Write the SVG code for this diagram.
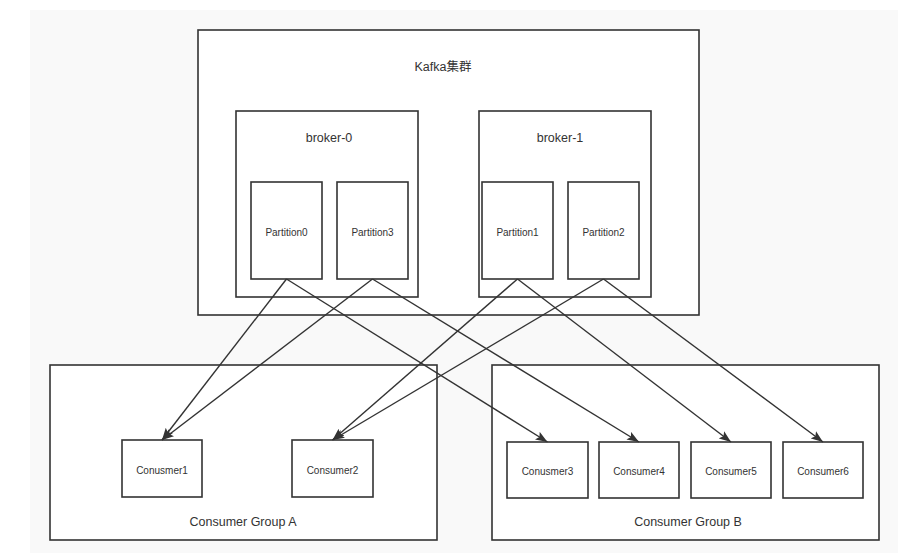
<svg xmlns="http://www.w3.org/2000/svg" width="924" height="555" viewBox="0 0 924 555">
<style>
.box{fill:#fff;stroke:#333;stroke-width:1.6}
.t{font-family:"Liberation Sans","Noto Sans CJK SC",sans-serif;fill:#333;text-anchor:middle;dominant-baseline:central}
.big{font-size:12.5px}
.sm{font-size:10px}
.c{fill:none;stroke:#333;stroke-width:1.4}
</style>
<defs>
<marker id="ah" viewBox="0 0 12 10" refX="12" refY="5" markerWidth="12" markerHeight="10" markerUnits="userSpaceOnUse" orient="auto">
<path d="M0,0.5 L12,5 L0,9.5 L2.5,5 z" fill="#333"/>
</marker>
</defs>
<rect x="30" y="10" width="868" height="543" fill="#f9f9f9"/>
<g id="kafka">
<rect class="box" x="198" y="30" width="501" height="285"/>
<text class="t big" x="443" y="67">Kafka集群</text>
</g>
<g id="broker-0">
<rect class="box" x="236" y="111" width="182" height="186"/>
<text class="t big" x="329" y="138">broker-0</text>
</g>
<g id="broker-1">
<rect class="box" x="479" y="111" width="172" height="186"/>
<text class="t big" x="560" y="138">broker-1</text>
</g>
<g id="partition0">
<rect class="box" x="251" y="182" width="71" height="97"/>
<text class="t sm" x="286.5" y="232">Partition0</text>
</g>
<g id="partition3">
<rect class="box" x="337" y="182" width="71" height="97"/>
<text class="t sm" x="372.5" y="232">Partition3</text>
</g>
<g id="partition1">
<rect class="box" x="482" y="182" width="71" height="97"/>
<text class="t sm" x="517.5" y="232">Partition1</text>
</g>
<g id="partition2">
<rect class="box" x="568" y="182" width="71" height="97"/>
<text class="t sm" x="603.5" y="232">Partition2</text>
</g>
<g id="groupA">
<rect class="box" x="50" y="365" width="387" height="175"/>
<text class="t big" x="243" y="522">Consumer Group A</text>
</g>
<g id="groupB">
<rect class="box" x="492" y="365" width="387" height="175"/>
<text class="t big" x="688" y="522">Consumer Group B</text>
</g>
<g id="consumer1">
<rect class="box" x="122" y="440" width="80" height="57"/>
<text class="t sm" x="162" y="470">Conusmer1</text>
</g>
<g id="consumer2">
<rect class="box" x="292" y="440" width="81" height="57"/>
<text class="t sm" x="332.5" y="470">Consumer2</text>
</g>
<g id="consumer3">
<rect class="box" x="507" y="442" width="81" height="56"/>
<text class="t sm" x="547.5" y="471">Conusmer3</text>
</g>
<g id="consumer4">
<rect class="box" x="599" y="442" width="80" height="56"/>
<text class="t sm" x="639" y="471">Consumer4</text>
</g>
<g id="consumer5">
<rect class="box" x="691" y="442" width="80" height="56"/>
<text class="t sm" x="731" y="471">Consumer5</text>
</g>
<g id="consumer6">
<rect class="box" x="783" y="442" width="80" height="56"/>
<text class="t sm" x="823" y="471">Consumer6</text>
</g>
<g id="connectors">
<line class="c" x1="286.5" y1="279" x2="162" y2="440" marker-end="url(#ah)"/>
<line class="c" x1="286.5" y1="279" x2="547.5" y2="442" marker-end="url(#ah)"/>
<line class="c" x1="372.5" y1="279" x2="162" y2="440" marker-end="url(#ah)"/>
<line class="c" x1="372.5" y1="279" x2="639" y2="442" marker-end="url(#ah)"/>
<line class="c" x1="517.5" y1="279" x2="332.5" y2="440" marker-end="url(#ah)"/>
<line class="c" x1="517.5" y1="279" x2="731" y2="442" marker-end="url(#ah)"/>
<line class="c" x1="603.5" y1="279" x2="332.5" y2="440" marker-end="url(#ah)"/>
<line class="c" x1="603.5" y1="279" x2="823" y2="442" marker-end="url(#ah)"/>
</g>
</svg>
